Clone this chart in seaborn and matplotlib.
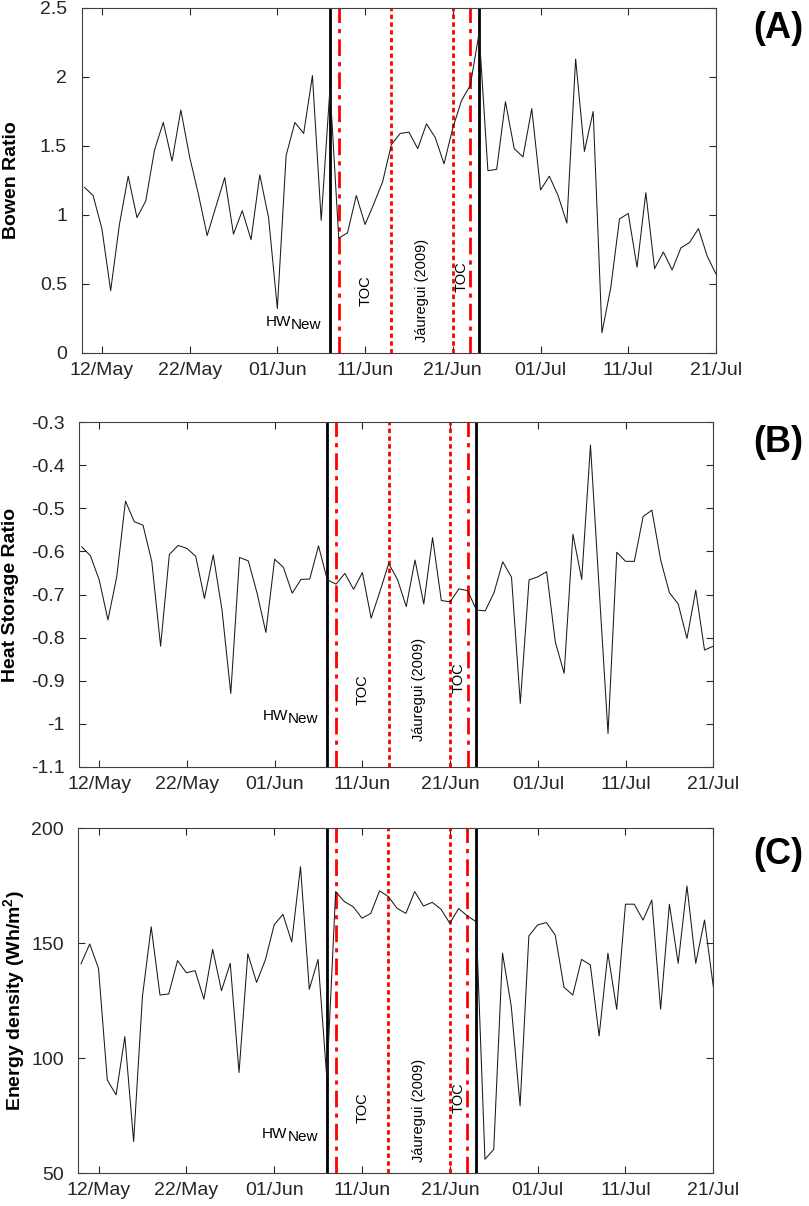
import numpy as np
import pandas as pd
import matplotlib
matplotlib.use("Agg")
import matplotlib.pyplot as plt
import matplotlib.dates as mdates
from matplotlib.ticker import FuncFormatter
import seaborn as sns

# ---------------- data ----------------
start_date = "2019-05-10"
end_date = "2019-07-21"

bowen_ratio = [
    1.20, 1.14, 0.90, 0.45, 0.93, 1.28, 0.98, 1.10, 1.47, 1.67, 1.39, 1.76,
    1.42, 1.15, 0.85, 1.06, 1.27, 0.86, 1.03, 0.82, 1.29, 0.98,
    0.32, 1.43, 1.67, 1.59, 2.01, 0.96, 1.92, 0.83, 0.87, 1.14,
    0.93, 1.08, 1.24, 1.51, 1.59, 1.60, 1.48, 1.66, 1.56, 1.37,
    1.63, 1.83, 1.94, 2.32, 1.32, 1.33, 1.82, 1.48, 1.42, 1.77,
    1.18, 1.28, 1.14, 0.94, 2.13, 1.46, 1.75, 0.145, 0.47, 0.97,
    1.01, 0.62, 1.16, 0.61, 0.73, 0.60, 0.76, 0.80, 0.90, 0.70, 0.57,
]

heat_storage_ratio = [
    -0.589, -0.610, -0.666, -0.759, -0.659, -0.483, -0.531, -0.539, -0.624, -0.820, -0.607, -0.586,
    -0.593, -0.611, -0.709, -0.608, -0.736, -0.930, -0.614, -0.622, -0.697, -0.788,
    -0.618, -0.637, -0.697, -0.665, -0.664, -0.587, -0.666, -0.676, -0.651, -0.688,
    -0.649, -0.755, -0.693, -0.628, -0.665, -0.728, -0.620, -0.722, -0.568, -0.714,
    -0.717, -0.687, -0.691, -0.736, -0.738, -0.696, -0.624, -0.660, -0.953, -0.666,
    -0.659, -0.647, -0.811, -0.883, -0.560, -0.665, -0.353, -0.690, -1.023, -0.602,
    -0.623, -0.623, -0.519, -0.504, -0.620, -0.696, -0.722, -0.802, -0.690, -0.829, -0.820,
]

energy_density = [
    141.0, 149.7, 139.1, 90.6, 84.1, 109.4, 63.8, 126.8, 157.2, 127.5, 128.0, 142.5,
    137.2, 138.1, 125.7, 147.4, 129.4, 141.3, 93.8, 145.4, 133.0, 142.8,
    158.0, 162.6, 150.6, 183.3, 130.0, 143.0, 91.0, 172.5, 168.1, 165.9,
    160.9, 163.0, 172.8, 170.3, 165.2, 163.0, 172.5, 166.2, 167.8, 164.8,
    158.7, 165.1, 161.9, 159.4, 56.1, 60.4, 145.7, 122.5, 79.3, 153.2,
    158.0, 159.0, 153.6, 130.9, 127.5, 143.0, 140.6, 109.7, 145.7, 121.3,
    167.0, 167.0, 160.1, 168.8, 121.4, 167.0, 141.3, 174.9, 141.3, 160.1, 131.2,
]

x_tick_dates = ["2019-05-12", "2019-05-22", "2019-06-01", "2019-06-11",
                "2019-06-21", "2019-07-01", "2019-07-11", "2019-07-21"]

hw_new_period = ["2019-06-07", "2019-06-24"]
toc_period = ["2019-06-08", "2019-06-23"]
jauregui_period = ["2019-06-14", "2019-06-21"]

panel_letters = ["(A)", "(B)", "(C)"]
y_labels = ["Bowen Ratio", "Heat Storage Ratio", "Energy density (Wh/m$^{\\mathregular{2}}$)"]
y_ticks = [
    [0, 0.5, 1, 1.5, 2, 2.5],
    [-1.1, -1.0, -0.9, -0.8, -0.7, -0.6, -0.5, -0.4, -0.3],
    [50, 100, 150, 200],
]

# ---------------- style ----------------
sns.set_theme(style="ticks")
plt.rcParams["font.family"] = ["Liberation Sans", "DejaVu Sans"]
plt.rcParams["mathtext.fontset"] = "custom"
plt.rcParams["mathtext.rm"] = "Liberation Sans"
plt.rcParams["mathtext.bf"] = "Liberation Sans:bold"

dark = "#262626"
fig = plt.figure(figsize=(8.09, 12.06), dpi=100)

W, H = 809.0, 1206.0
# axes boxes in pixels: left, right, top, bottom
boxes = [(81.7, 716.0, 8.0, 352.7), (79.0, 713.3, 422.3, 766.7), (78.3, 713.3, 828.3, 1173.3)]
ylabel_cx = [11, 11, 15]
letter_cy = [28, 442, 854]

dates = pd.date_range(start_date, end_date, freq="D")
series = [bowen_ratio, heat_storage_ratio, energy_density]

# text placement (data coords)
hw_pos = [(0.194, 0.172), (-0.992, -0.999), (65.3, 64.0)]
toc1_y = [0.45, -0.92, 78.4]
jau_y = [0.45, -0.92, 77.5]
toc2_y = [0.55, -0.894, 83.0]

d = lambda s: pd.Timestamp(s)
xlim = (d("2019-05-12") - pd.Timedelta(hours=2.3 * 24), d("2019-07-21"))

for i in range(3):
    l, r, t, b = boxes[i]
    ax = fig.add_axes([l / W, 1 - b / H, (r - l) / W, (b - t) / H])
    df = pd.DataFrame({"date": dates, "value": series[i]})

    for s in hw_new_period:
        ax.axvline(d(s), color="black", lw=2.0, zorder=1)
    for s in toc_period:
        ax.axvline(d(s), color="#ff0000", lw=2.0, ls=(0, (6, 2.2, 1.5, 2.2)), zorder=1)
    for s in jauregui_period:
        ax.axvline(d(s), color="#ff0000", lw=2.0, ls=(0, (1.6, 1.2)), zorder=1)

    sns.lineplot(data=df, x="date", y="value", ax=ax, color="#1a1a1a", lw=0.75, zorder=3)

    ax.set_xlim(xlim)
    ax.set_ylim(y_ticks[i][0], y_ticks[i][-1])
    ax.set_yticks(y_ticks[i])
    ax.yaxis.set_major_formatter(FuncFormatter(lambda v, p: f"{round(v, 6):g}"))
    ax.set_xticks([d(s) for s in x_tick_dates])
    ax.xaxis.set_major_formatter(mdates.DateFormatter("%d/%b"))
    ax.set_xlabel("")
    ax.set_ylabel(y_labels[i], fontsize=14, fontweight="bold", color="black")
    ax.yaxis.label.set_va("center")
    ax.yaxis.set_label_coords((ylabel_cx[i] - l) / (r - l), 0.5)

    ax.tick_params(direction="in", top=True, right=True, length=5, width=0.8,
                   labelsize=14, color=dark, labelcolor=dark)
    ax.tick_params(axis="x", pad=6.5)
    ax.tick_params(axis="y", pad=10.5)
    for sp in ax.spines.values():
        sp.set_color("#404040")
        sp.set_linewidth(0.8)

    # annotations
    new_t = ax.text(d("2019-06-06"), hw_pos[i][1], "New", ha="right", va="baseline",
                    fontsize=11, color="black")
    ax.annotate("HW", xy=(0, 0), xycoords=new_t, xytext=(0, 2.3),
                textcoords="offset points", ha="right", va="bottom",
                fontsize=11, color="black")
    ax.text(d("2019-06-11") + pd.Timedelta(hours=2), toc1_y[i], "TOC", rotation=90,
            ha="center", va="center", fontsize=10.5, color="black")
    ax.text(d("2019-06-17") + pd.Timedelta(hours=12), jau_y[i], "Jáuregui (2009)", rotation=90,
            ha="center", va="center", fontsize=10.5, color="black")
    ax.text(d("2019-06-22"), toc2_y[i], "TOC", rotation=90,
            ha="center", va="center", fontsize=10.5, color="black")

    fig.text(778 / W, 1 - letter_cy[i] / H, panel_letters[i], ha="center", va="center",
             fontsize=26, fontweight="bold", color="black")

fig.savefig("out.png", dpi=100)
